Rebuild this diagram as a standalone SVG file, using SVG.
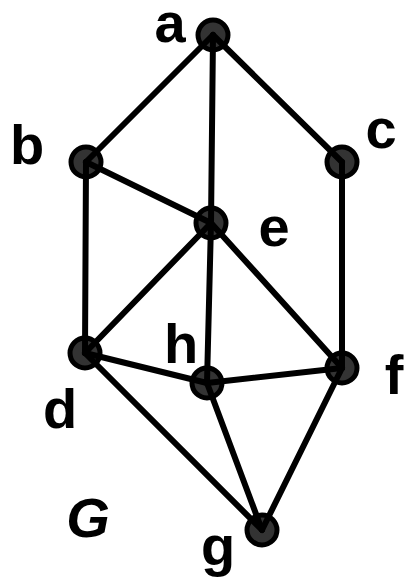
<svg xmlns="http://www.w3.org/2000/svg" width="407" height="583" viewBox="0 0 407 583">
<style>
.n{fill:#333;stroke:#000;stroke-width:5}
.e{stroke:#000;stroke-width:6;stroke-linecap:round}
.l{font-family:"Liberation Sans",Arial,sans-serif;font-weight:bold;font-size:56px;fill:#000;text-anchor:middle}
</style>
<rect width="407" height="583" fill="#fff"/>
<g id="node-a"><circle class="n" cx="213" cy="35" r="15"/><text class="l" x="170" y="42">a</text></g>
<g id="node-b"><circle class="n" cx="86" cy="162" r="15"/><text class="l" x="27" y="164">b</text></g>
<g id="node-c"><circle class="n" cx="342" cy="162" r="15"/><text class="l" x="381" y="148">c</text></g>
<g id="node-e"><circle class="n" cx="211" cy="223" r="15"/><text class="l" x="274" y="246">e</text></g>
<g id="node-d"><circle class="n" cx="85" cy="353" r="15"/><text class="l" x="60" y="428">d</text></g>
<g id="node-h"><circle class="n" cx="207" cy="383" r="15"/><text class="l" x="181" y="363">h</text></g>
<g id="node-f"><circle class="n" cx="342" cy="368" r="15"/><text class="l" x="394" y="394">f</text></g>
<g id="node-g"><circle class="n" cx="262" cy="530" r="15"/><text class="l" x="218" y="565">g</text></g>
<g id="connectors" class="e">
<line x1="213" y1="35" x2="86" y2="162"/>
<line x1="213" y1="35" x2="211" y2="223"/>
<line x1="213" y1="35" x2="342" y2="162"/>
<line x1="86" y1="162" x2="211" y2="223"/>
<line x1="86" y1="162" x2="85" y2="353"/>
<line x1="342" y1="162" x2="342" y2="368"/>
<line x1="211" y1="223" x2="85" y2="353"/>
<line x1="211" y1="223" x2="207" y2="383"/>
<line x1="211" y1="223" x2="342" y2="368"/>
<line x1="85" y1="353" x2="207" y2="383"/>
<line x1="85" y1="353" x2="262" y2="530"/>
<line x1="207" y1="383" x2="342" y2="368"/>
<line x1="207" y1="383" x2="262" y2="530"/>
<line x1="342" y1="368" x2="262" y2="530"/>
</g>
<text id="graph-label" class="l" x="88" y="537" font-style="italic">G</text>
</svg>
